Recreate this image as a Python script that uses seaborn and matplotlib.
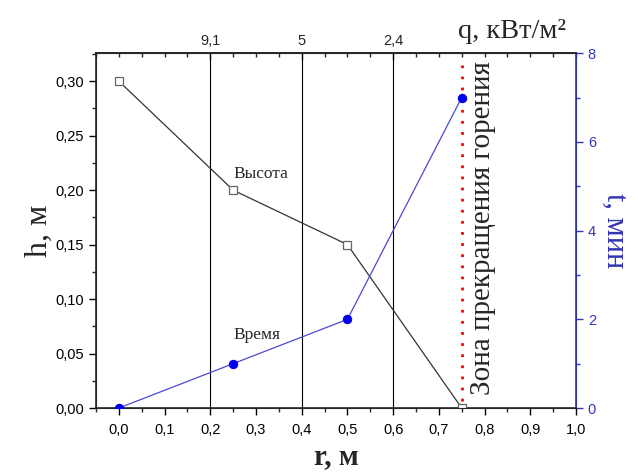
import numpy as np
import pandas as pd
import matplotlib
matplotlib.use("Agg")
import matplotlib.pyplot as plt
import seaborn as sns
from matplotlib.ticker import FuncFormatter, MultipleLocator

# данные
r_vals = [0.0, 0.25, 0.5, 0.75]
height = [0.30, 0.20, 0.15, 0.00]
time_min = [0, 1, 2, 7]
q_pos = [0.2, 0.4, 0.6]
q_labels = ["9,1", "5", "2,4"]
zone_r = 0.75

sns.set_style("ticks")
plt.rcParams['font.family'] = ['Liberation Sans', 'DejaVu Sans']
serif = ['Liberation Serif', 'DejaVu Serif']
blue_ax = "#3535b5"

df = pd.DataFrame({"r": r_vals, "h": height, "t": time_min})

fig = plt.figure(figsize=(6.38, 4.75), dpi=100)
ax = fig.add_axes([0.1505, 0.141, 0.7523, 0.747])

for x in q_pos:
    ax.axvline(x, color="black", lw=0.8, zorder=1)

sns.lineplot(data=df, x="r", y="h", ax=ax, color="#333333", lw=0.9,
             marker="s", markersize=6, markerfacecolor="white",
             markeredgecolor="#666666", markeredgewidth=0.9, zorder=3)

ax2 = ax.twinx()
sns.lineplot(data=df, x="r", y="t", ax=ax2, color="#4a4ad0", lw=0.9,
             marker="o", markersize=6, markerfacecolor="#0000ee",
             markeredgecolor="#0000ee", zorder=3)
ax2.axvline(zone_r, color="red", lw=2, ls=(0, (1, 3)), ymin=0.02, ymax=0.98, zorder=2)

comma = FuncFormatter(lambda v, p: f"{v:.1f}".replace(".", ","))
ax.set_xlim(-0.05, 1.0)
ax.set_ylim(0, 0.3257)
ax.xaxis.set_major_locator(MultipleLocator(0.1))
ax.xaxis.set_minor_locator(MultipleLocator(0.05))
ax.xaxis.set_major_formatter(comma)
ax.yaxis.set_major_locator(MultipleLocator(0.05))
ax.yaxis.set_minor_locator(MultipleLocator(0.025))
ax.yaxis.set_major_formatter(FuncFormatter(lambda v, p: f"{v:.2f}".replace(".", ",")))
ax.tick_params(which="major", direction="out", length=5, width=1, labelsize=10.5, colors="black")
ax.tick_params(which="minor", direction="out", length=3, width=1)
ax.tick_params(axis="x", pad=6)

ax2.set_ylim(0, 8)
ax2.yaxis.set_major_locator(MultipleLocator(2))
ax2.yaxis.set_minor_locator(MultipleLocator(1))
ax2.tick_params(axis="y", which="major", direction="out", length=5, width=1,
                labelsize=10.5, colors=blue_ax)
ax2.tick_params(axis="y", which="minor", direction="out", length=3, width=1, colors=blue_ax)
ax2.spines["right"].set_color(blue_ax)
ax2.spines["right"].set_linewidth(1.2)
for s in ["left", "bottom", "top"]:
    ax.spines[s].set_linewidth(1.2)
ax2.spines["top"].set_linewidth(1.2)

top = ax.secondary_xaxis("top")
top.set_xticks(q_pos)
top.set_xticklabels(q_labels)
top.xaxis.set_minor_locator(MultipleLocator(0.05))
top.tick_params(which="major", direction="in", length=5, width=1, labelsize=10.5, pad=4)
top.tick_params(which="minor", direction="in", length=3, width=1)

ax.set_xlabel("r, м", family=serif, fontsize=21, fontweight="bold", labelpad=4)
ax.set_ylabel("h, м", family=serif, fontsize=23, labelpad=1)
ax2.set_ylabel("t, мин", family=serif, fontsize=22, color=blue_ax, rotation=270, labelpad=24)

ax.text(0.25, 0.215, "Высота", family=serif, fontsize=12.5, ha="left", va="center")
ax.text(0.25, 0.067, "Время", family=serif, fontsize=12.5, ha="left", va="center")
ax.text(0.797, 0.165, "Зона прекращения горения", family=serif, fontsize=21,
        rotation=90, ha="center", va="center")
fig.text(0.8025, 0.933, "q, кВт/м²", family=serif, fontsize=20.5, ha="center", va="center")

fig.savefig("out.png", dpi=100)
